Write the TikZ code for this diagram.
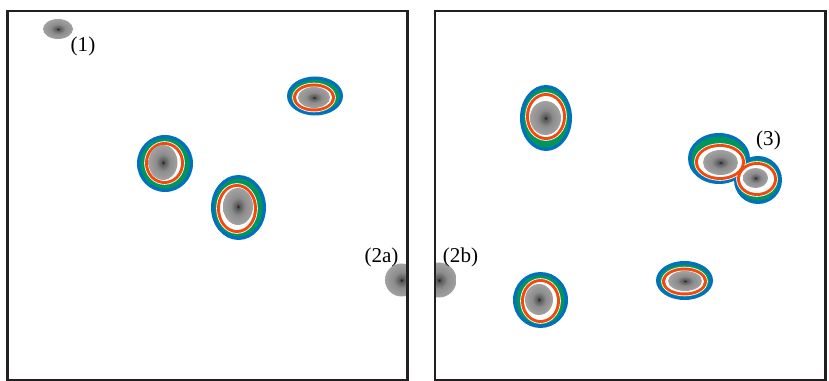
\documentclass[tikz,border=0pt]{standalone}
\usepackage{fontspec}
\setmainfont{Liberation Serif}
\definecolor{cBlue}{HTML}{0072BC}
\definecolor{cGreen}{HTML}{00965A}
\definecolor{cRed}{HTML}{F04A0E}
\definecolor{cFrame}{HTML}{231F20}
\pgfdeclareradialshading{blobshade}{\pgfpoint{0bp}{0bp}}{color(0bp)=(black!90); color(3bp)=(black!65); color(12bp)=(black!45); color(50bp)=(black!20)}
\newcommand\bluelist{165/163.5/28/28.5, 238.5/207.5/27.5/32.5, 315/96/28/19.5, 546/118/26/33, 540.5/300/27.5/28, 684.5/280.5/28.5/19.5, 719/158.5/31/25.5, 758/180/24/24}
\newcommand\redlist{164.5/163/19.5/21, 237/208.5/20/24.5, 314/97.5/21/14, 546/116.5/20/23.5, 540.5/301/19.5/22, 684.5/281.5/22.5/14, 720/162/25/18, 757/179/20/17}
\newcommand\graylist{163/162.5/14.5/17.5, 238/206.5/15/18.5, 314/97.5/16/10.5, 545.5/118/15.5/17, 539/299.5/14/15.5, 685/281/17/10, 720.5/162.5/17.5/12.5, 755.5/178/12.5/10, 58/29/15/10}

\begin{document}
\begin{tikzpicture}[
  x=0.02cm, y=-0.02cm,
  frame/.style={draw=cFrame, line width=1.7pt},
  spot/.style={shading=blobshade},
  lab/.style={font=\fontsize{12}{14}\selectfont, inner sep=0pt}
]
\useasboundingbox (0,0) rectangle (829,381);
\foreach \c/\d in {cBlue/0, cGreen/3.5}
  \foreach \x/\y/\w/\h in \bluelist
    \fill[\c] (\x,\y) ellipse[x radius=\w-\d, y radius=\h-\d];
\foreach \c/\d in {white/-0.8, cRed/0, white/3}
  \foreach \x/\y/\w/\h in \redlist
    \fill[\c] (\x,\y) ellipse[x radius=\w-\d, y radius=\h-\d];
\foreach \x/\y/\w/\h in \graylist
  \shade[spot] (\x,\y) ellipse[x radius=\w, y radius=\h];
\begin{scope}
  \clip (7.5,11) rectangle (407.5,380);
  \shade[spot] (401.5,280) circle[radius=16.5];
\end{scope}
\begin{scope}
  \clip (435,11) rectangle (825.5,380);
  \shade[spot] (439,280) circle[radius=17.5];
\end{scope}
\draw[frame] (7.5,11) rectangle (407.5,380);
\draw[frame] (435,11) rectangle (825.5,380);
\node[lab] (l1) at (83,46) {(1)};
\node[lab] (l2a) at (381.5,257.5) {(2a)};
\node[lab] (l2b) at (460.5,257.5) {(2b)};
\node[lab] (l3) at (768.5,140.5) {(3)};
\end{tikzpicture}
\end{document}
